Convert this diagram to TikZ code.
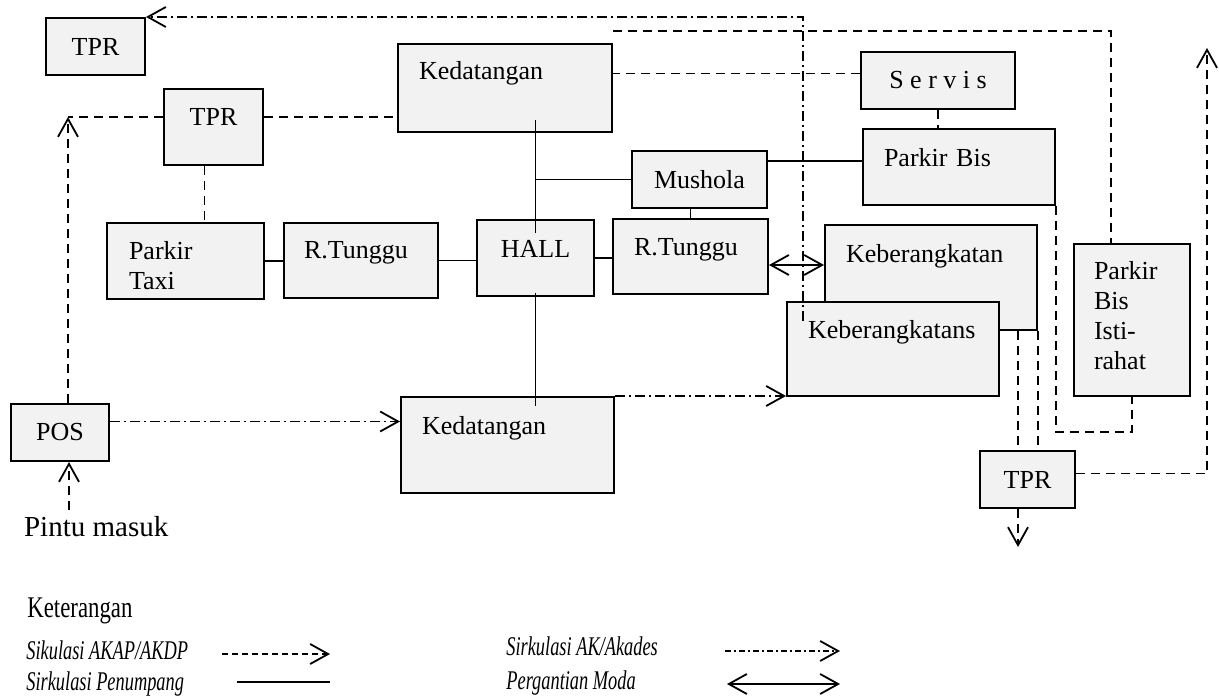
\documentclass[tikz,border=0pt]{standalone}
\usepackage{fontspec}
\setmainfont{Liberation Serif}
\newfontfamily\legendfont[FakeStretch=0.76]{Liberation Serif}
\newfontfamily\keyfont[FakeStretch=0.68]{Liberation Serif}
\usetikzlibrary{arrows.meta}

\begin{document}
\begin{tikzpicture}[x=0.5pt, y=-0.5pt,
  font=\fontsize{13}{15}\selectfont,
  >={Straight Barb[length=9pt,width=10pt]},
  box/.style={draw, line width=1pt, fill=black!5, anchor=north west,
    inner sep=0pt, align=left},
  akap/.style={line width=0.9pt, dash pattern=on 4.5pt off 3pt},
  akades/.style={line width=0.9pt, dash pattern=on 5pt off 2pt on 1pt off 2pt},
  orang/.style={line width=0.9pt},
  lgd/.style={anchor=west, inner sep=0pt,
    font=\keyfont\itshape\fontsize{13.5}{15}\selectfont}]
  \useasboundingbox (0,0) rectangle (1219,700);

  % Ruang-ruang terminal
  \node[box, align=center, minimum width=49.5pt, minimum height=28.5pt] (tprA) at (45,17) {TPR};
  \node[box, align=center, text width=49.5pt, text height=18.5pt, text depth=19.5pt] (tprB) at (163,88) {TPR};
  \node[box, inner xsep=11pt, text width=56.5pt, text height=18pt, text depth=20pt] (taxi) at (106,222) {Parkir\\Taxi};
  \node[box, inner xsep=10pt, text width=57pt, text height=17.5pt, text depth=20pt] (tungguA) at (283,222) {R.Tunggu};
  \node[box, align=center, text width=58.5pt, text height=18.5pt, text depth=19.5pt] (hall) at (476,219) {HALL};
  \node[box, inner xsep=10.5pt, text width=56.5pt, text height=18.5pt, text depth=19pt] (tungguB) at (612,218) {R.Tunggu};
  \node[box, inner xsep=10.5pt, text width=86pt, text height=18pt, text depth=26pt] (kdtA) at (397,43) {Kedatangan};
  \node[box, align=center, minimum width=67.5pt, minimum height=28.5pt] (mushola) at (631,150) {Mushola};
  \node[box, align=center, minimum width=77pt, minimum height=28.5pt] (servis) at (860,51) {S e r v i s};
  \node[box, inner xsep=10.5pt, text width=75pt, text height=19pt, text depth=19pt] (parkirbis) at (862,128) {Parkir Bis};
  \node[box, inner xsep=10.5pt, text width=85pt, text height=18.5pt, text depth=34pt] (berangkatA) at (824,224) {Keberangkatan};
  \node[box, inner xsep=10.5pt, text width=85pt, text height=18pt, text depth=29pt] (berangkatB) at (786,301) {Keberangkatans};
  \node[box, inner xsep=10pt, text width=38pt, text height=17.5pt, text depth=58.5pt] (pbi) at (1073,243) {Parkir\\Bis\\Isti-\\rahat};
  \node[box, align=center, minimum width=47.5pt, minimum height=28.5pt] (tprC) at (979,450) {TPR};
  \node[box, inner xsep=10.5pt, text width=85.5pt, text height=18.5pt, text depth=29.5pt] (kdtB) at (400,396) {Kedatangan};
  \node[box, align=center, minimum width=49pt, minimum height=28.5pt] (pos) at (10,403) {POS};
  \node[anchor=west, font=\fontsize{14.5}{16}\selectfont] (pintu) at (17,527) {Pintu masuk};

  % Sirkulasi penumpang
  \coordinate (hk) at (hall.north |- kdtA.south);
  \coordinate (hb) at (hall.south |- kdtB.north);
  \draw[orang] (taxi.east) -- (taxi.east -| tungguA.west);
  \draw[orang] (tungguA.east) -- (tungguA.east -| hall.west);
  \draw[orang] (hall.east) -- (hall.east -| tungguB.west);
  \draw[orang] ([yshift=-7pt]hall.north) -- ([yshift=6.5pt]hk);
  \draw[orang] (hall.north |- mushola.west) -- (mushola.west);
  \draw[orang] (tungguB.north) -- (tungguB.north |- mushola.south);
  \coordinate (pbw) at ([yshift=3pt]parkirbis.west);
  \draw[orang] (pbw) -- (pbw -| mushola.east);
  \draw[orang] ([yshift=2pt]hall.south) -- ([yshift=-5pt]hb);

  % Pergantian moda
  \coordinate (rt) at ([yshift=-4.25pt]tungguB.east);
  \draw[orang, <->] (rt) -- (rt -| berangkatA.west);

  % Sirkulasi AKAP/AKDP
  \coordinate (posn) at ([xshift=4pt]pos.north);
  \coordinate (tprBw) at ([yshift=5pt]tprB.west);
  \coordinate (tprBe) at ([yshift=5pt]tprB.east);
  \draw[akap, ->] (posn) -- (posn |- tprBw);
  \draw[akap] (tprBw) -- (posn |- tprBw);
  \draw[akap] (tprBe) -- (tprBe -| kdtA.west);
  \coordinate (tb) at ([xshift=-4.5pt]tprB.south);
  \draw[akap] (tb) -- (tb |- taxi.north);
  \coordinate (sw) at ([yshift=3.5pt]servis.west);
  \draw[akap] (sw) -- (sw -| kdtA.east);
  \draw[akap] (servis.south) -- (servis.south |- parkirbis.north);
  \coordinate (ta) at ([yshift=6pt]kdtA.north east);
  \coordinate (pn) at ([xshift=-10.5pt]pbi.north);
  \draw[akap] (ta) -| (pn);
  \coordinate (pbl) at ([yshift=-17.5pt]pbi.south);
  \draw[akap] (parkirbis.south east) |- (pbl) -- (pbi.south);
  \coordinate (tc) at ([xshift=-4.75pt]tprC.north);
  \draw[akap] (tc |- berangkatA.south) -- (tc);
  \draw[akap] (berangkatA.south east) -- (berangkatA.south east |- tprC.north);
  \coordinate (ts) at ([xshift=-4.75pt]tprC.south);
  \coordinate (exit) at ([yshift=-19pt]ts);
  \draw[akap, ->] (ts) -- (exit);
  \coordinate (te) at ([yshift=3pt]tprC.east);
  \coordinate (out) at (1207,48);
  \draw[akap, ->] (te) -| (out);
  \coordinate (ps) at ([xshift=4.5pt]pos.south);
  \draw[akap, ->] (ps |- pintu.north) -- (ps);

  % Sirkulasi AK/Akades
  \coordinate (pe) at ([yshift=5.5pt]pos.east);
  \draw[akades, ->] (pe) -- (pe -| kdtB.west);
  \draw[akades, ->] (kdtB.north east) -- (kdtB.north east -| berangkatB.west);
  \coordinate (akin) at ([xshift=8.5pt,yshift=-10pt]berangkatB.north west);
  \draw[akades, ->] (akin) |- (tprA.north east);

  % Keterangan
  \node[anchor=west, inner sep=0pt, font=\legendfont\fontsize{15}{17}\selectfont] (ket) at (27,611) {Keterangan};
  \node[lgd] (lgA) at (26,650) {Sikulasi AKAP/AKDP};
  \node[lgd] (lgB) at (506,646) {Sirkulasi AK/Akades};
  \node[lgd] (lgC) at (26,684) {Sirkulasi Penumpang};
  \node[lgd] (lgD) at (506,683) {Pergantian Moda};
  \coordinate (kA1) at (222,654); \coordinate (kA2) at (330,654);
  \coordinate (kB1) at (725,651); \coordinate (kB2) at (840,651);
  \coordinate (kC1) at (237,682); \coordinate (kC2) at (330,682);
  \coordinate (kD1) at (727,684); \coordinate (kD2) at (840,684);
  \draw[akap, dash pattern=on 3pt off 2pt, ->] (kA1) -- (kA2);
  \draw[akades, dash pattern=on 3pt off 1.5pt on 1pt off 1.5pt, ->] (kB1) -- (kB2);
  \draw[orang] (kC1) -- (kC2);
  \draw[orang, <->] (kD1) -- (kD2);
\end{tikzpicture}
\end{document}
